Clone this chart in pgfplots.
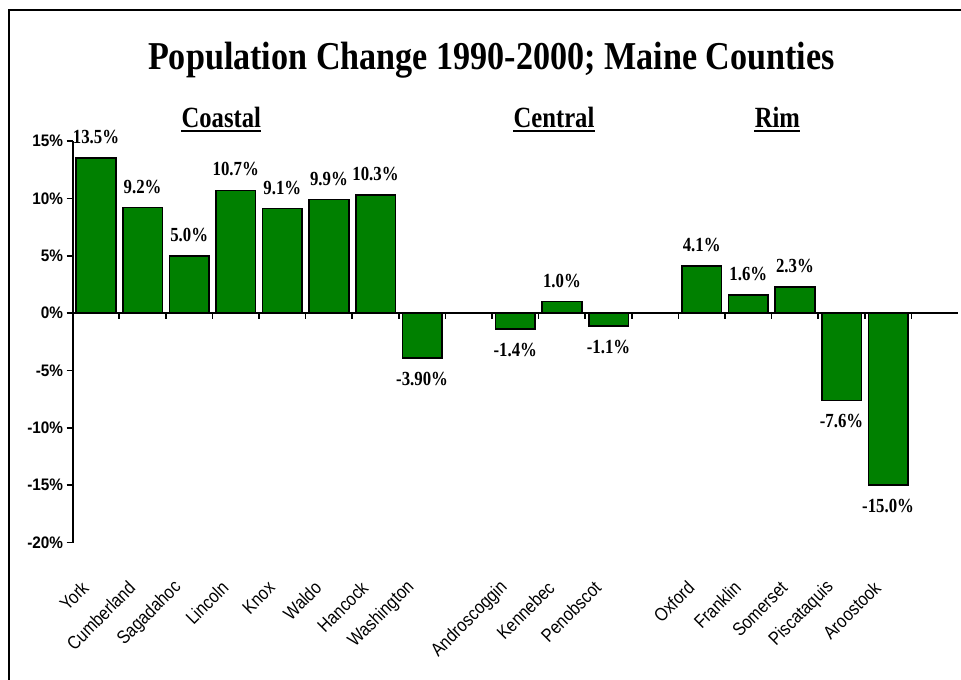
\documentclass[border=0pt]{standalone}
\usepackage{fontspec}
\usepackage{graphicx}
\usepackage{pgfplots}
\usepackage{pgfplotstable}
\pgfplotsset{compat=1.18}
\setmainfont{Liberation Serif}
\newfontfamily\cserif[FakeStretch=0.84]{Liberation Serif}
\newfontfamily\csans[FakeStretch=0.86]{Liberation Sans}
\newfontfamily\bsans[FakeStretch=0.92]{Liberation Sans}
\definecolor{bargreen}{RGB}{0,128,0}
\tikzset{lab font/.style={font=\cserif\bfseries\fontsize{15}{15}\selectfont, inner ysep=10pt, text=black}}
\pgfplotsset{bar data/.style={ybar, bar width=0.85, bar shift=0pt, fill=bargreen, draw=black, line width=1.2pt,
    point meta=explicit symbolic,
    nodes near coords={\pgfplotspointmeta\%}}}

% positive changes
\pgfplotstableread{
x y lab
0 13.5 13.5
1 9.2 9.2
2 5.0 5.0
3 10.7 10.7
4 9.1 9.1
5 9.9 9.9
6 10.3 10.3
10 1.0 1.0
13 4.1 4.1
14 1.6 1.6
15 2.3 2.3
}\postable
% negative changes
\pgfplotstableread{
x y lab
7 -3.9 -3.90
9 -1.4 -1.4
11 -1.1 -1.1
16 -7.6 -7.6
17 -15.0 -15.0
}\negtable

\begin{document}
\begin{tikzpicture}[x=1pt,y=1pt]
\path[use as bounding box] (0,0) rectangle (720.75,510);
\draw[line width=1.6pt] (6.75,-5) -- (6.75,502.5) -- (730,502.5);
\begin{axis}[
  at={(54.5pt,103.05pt)}, anchor=south west,
  scale only axis, width=664pt, height=301.2pt,
  xmin=-0.5, xmax=18.5, ymin=-20, ymax=15,
  axis lines*=left,
  axis line style={line width=1.5pt, black},
  x axis line style={draw=none},
  tick align=outside,
  major tick length=4.5pt,
  ytick={-20,-15,-10,-5,0,5,10,15},
  yticklabels={-20\%,-15\%,-10\%,-5\%,0\%,5\%,10\%,15\%},
  ytick style={line width=1.2pt, black},
  yticklabel style={font=\bsans\bfseries\fontsize{12.5}{12.5}\selectfont, inner xsep=2.5pt},
  xtick={0,1,2,3,4,5,6,7,9,10,11,13,14,15,16,17},
  xticklabels={York,Cumberland,Sagadahoc,Lincoln,Knox,Waldo,Hancock,Washington,Androscoggin,Kennebec,Penobscot,Oxford,Franklin,Somerset,Piscataquis,Aroostook},
  xtick style={draw=none},
  xticklabel style={font=\csans\fontsize{14}{14}\selectfont, xshift=-8pt, yshift=-27pt, rotate=45, anchor=east, inner sep=0pt},
]
\addplot[bar data, every node near coord/.append style={lab font, anchor=south}]
  table[x=x,y=y,meta=lab]{\postable};
\addplot[bar data, every node near coord/.append style={lab font, anchor=north}]
  table[x=x,y=y,meta=lab]{\negtable};
\addplot[black, line width=1.6pt, no markers] coordinates {(-0.5,0) (18.5,0)};
\addplot[ycomb, black, line width=1.2pt, no markers] coordinates {
(0.5,-0.55) (1.5,-0.55) (2.5,-0.55) (3.5,-0.55) (4.5,-0.55) (5.5,-0.55)
(6.5,-0.55) (7.5,-0.55) (8.5,-0.55) (9.5,-0.55) (10.5,-0.55) (11.5,-0.55)
(12.5,-0.55) (13.5,-0.55) (14.5,-0.55) (15.5,-0.55) (16.5,-0.55) (17.5,-0.55)};
\end{axis}
\node[anchor=base, inner sep=0pt] at (368.6,457.5) {\resizebox{515pt}{\height}{\cserif\bfseries\fontsize{29.6}{32}\selectfont Population Change 1990-2000; Maine Counties}};
\node[anchor=base, inner sep=0pt] (c1) at (166,414.2) {\cserif\bfseries\fontsize{22}{24}\selectfont Coastal};
\node[anchor=base, inner sep=0pt] (c2) at (415.5,414.2) {\cserif\bfseries\fontsize{22}{24}\selectfont Central};
\node[anchor=base, inner sep=0pt] (c3) at (583,414.2) {\cserif\bfseries\fontsize{22}{24}\selectfont Rim};
\foreach \n in {c1,c2,c3}{
  \draw[line width=1.4pt] ([yshift=-2.5pt]\n.base west) -- ([yshift=-2.5pt]\n.base east);
}
\end{tikzpicture}
\end{document}
